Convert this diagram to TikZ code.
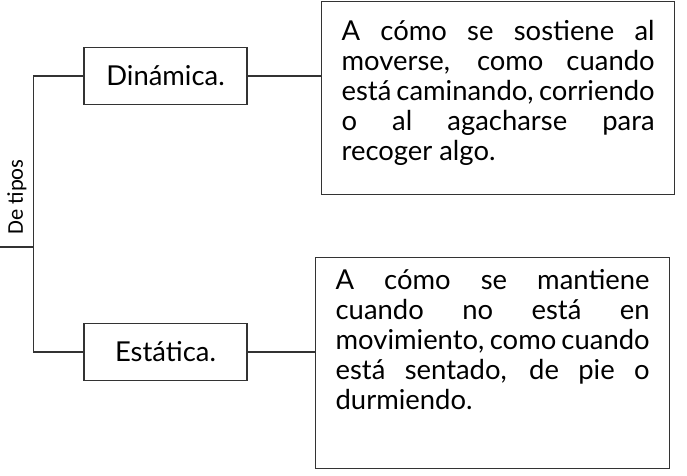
\documentclass[tikz,border=0pt]{standalone}
\usepackage{fontspec}
\setmainfont{Lato}
\newfontfamily\tiposfont{Carlito}

\begin{document}
\begin{tikzpicture}[
        tipobox/.style={draw=linegray, line width=0.9pt, minimum width=4.075cm, minimum height=1.425cm, inner sep=0pt, font=\fontsize{19.5pt}{21.3pt}\selectfont},
        textobox/.style={draw=linegray, line width=0.9pt, anchor=north west, inner xsep=0.5cm, inner ysep=0pt, font=\fontsize{19.5pt}{21.3pt}\selectfont},
        conn/.style={draw=linegray, line width=0.9pt}
    ]
        \definecolor{linegray}{HTML}{333333}
        \useasboundingbox (0,0) rectangle (17.175,11.9);

        \node[tipobox] (dinamica) at (4.1375,10.0) {Dinámica.};
        \node[tipobox] (estatica) at (4.1375,3.1) {Estática.};

        \node[textobox] (txtdin) at (8.025,11.875) {\parbox[c][4.825cm][t]{7.825cm}{\hyphenpenalty=10000
            \rule{0pt}{0.975cm}A cómo se sostiene al\linebreak
            moverse, como cuando\linebreak
            está caminando, corriendo\linebreak
            o al agacharse para\linebreak
            recoger algo.}};
        \node[textobox] (txtest) at (7.875,5.475) {\parbox[c][5.275cm][t]{7.85cm}{\hyphenpenalty=10000
            \rule{0pt}{0.8cm}A cómo se mantiene\linebreak
            cuando no está en\linebreak
            movimiento, como cuando\linebreak
            está sentado, de pie o\linebreak
            durmiendo.}};

        \node[rotate=90, font=\tiposfont\fontsize{16pt}{18pt}\selectfont] (tipos) at (0.425,6.975) {De tipos};
        \coordinate (stub) at (0,5.725);

        \draw[conn] (dinamica.east) -- (dinamica.east -| txtdin.west);
        \draw[conn] (estatica.east) -- (estatica.east -| txtest.west);
        \draw[conn] (dinamica.west) -- ++(-1.25,0) |- (estatica.west);
        \draw[conn] (stub) -- ++(0.85,0);
    \end{tikzpicture}
\end{document}
